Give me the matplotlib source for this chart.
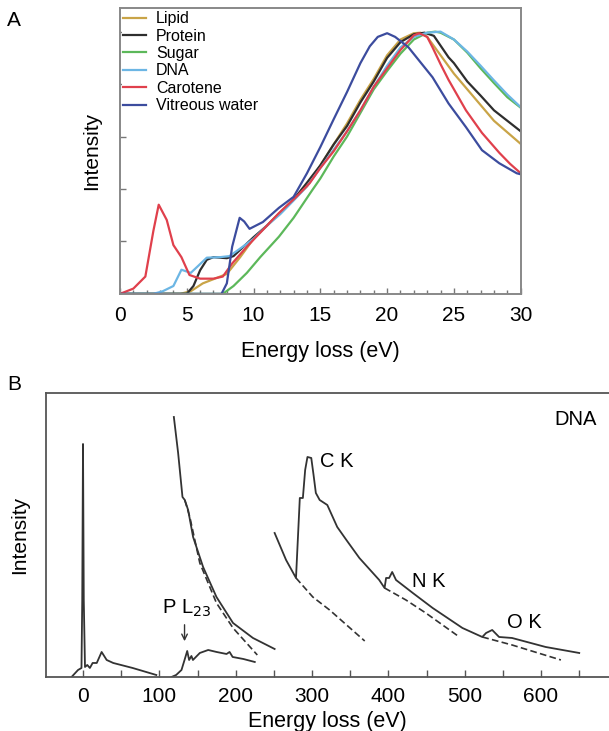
import numpy as np
import matplotlib
matplotlib.use("Agg")
import matplotlib.pyplot as plt
from matplotlib.ticker import MultipleLocator

plt.rcParams['font.family'] = ['Liberation Sans', 'DejaVu Sans']

# ---------------- Panel A: low-loss spectra ----------------
lipid_x = [0, 4.5, 5.3, 6.2, 7.0, 8.0, 9.0, 10, 11, 12, 13, 14, 15, 16, 17, 18, 19, 20, 21, 22, 22.5, 23, 24, 25, 26, 27, 28, 29, 30]
lipid_y = [0, 0, 0.05, 0.2, 0.28, 0.38, 0.7, 1.05, 1.3, 1.55, 1.8, 2.05, 2.45, 2.85, 3.25, 3.7, 4.1, 4.55, 4.85, 4.97, 4.98, 4.9, 4.55, 4.2, 3.9, 3.6, 3.3, 3.08, 2.86]

protein_x = [0, 5.0, 5.5, 6.0, 6.5, 7, 8, 8.5, 9, 10, 11, 12, 13, 14, 15, 16, 17, 18, 19, 20, 21, 22, 22.8, 23.5, 24.6, 25, 26, 27, 28, 29, 30]
protein_y = [0, 0, 0.15, 0.45, 0.65, 0.7, 0.68, 0.72, 0.84, 1.08, 1.3, 1.55, 1.8, 2.12, 2.45, 2.85, 3.2, 3.65, 4.05, 4.5, 4.8, 4.95, 4.98, 4.92, 4.51, 4.4, 4.05, 3.78, 3.5, 3.3, 3.1]

sugar_x = [0, 7.7, 8.5, 9.5, 10.5, 11.9, 13, 14.4, 15, 16, 17, 18, 19, 20, 21, 22, 23, 23.6, 24, 25, 26, 27, 28, 29, 30]
sugar_y = [0, 0, 0.15, 0.4, 0.7, 1.09, 1.45, 1.98, 2.2, 2.62, 3.0, 3.45, 3.9, 4.25, 4.58, 4.85, 4.98, 5.0, 4.98, 4.85, 4.6, 4.3, 4.02, 3.75, 3.55]

dna_x = [0, 2.5, 3.2, 4.0, 4.6, 5.3, 5.8, 6.5, 7.5, 8.2, 9.2, 10, 11, 12, 13, 14, 15, 16, 17, 18, 19, 20, 21, 22, 23, 24, 25, 26, 27, 28, 29, 30]
dna_y = [0, 0, 0.05, 0.15, 0.46, 0.4, 0.52, 0.69, 0.7, 0.72, 0.9, 1.05, 1.3, 1.52, 1.78, 2.05, 2.4, 2.75, 3.1, 3.5, 3.95, 4.35, 4.7, 4.9, 4.98, 5.0, 4.85, 4.62, 4.35, 4.07, 3.8, 3.56]

carotene_x = [0, 1, 1.9, 2.5, 2.9, 3.5, 4.0, 4.6, 5.2, 6.0, 7.0, 7.7, 8.4, 9.5, 10.7, 11.9, 13.2, 14.2, 15, 16, 17, 18, 19, 20, 21, 22, 22.4, 23, 23.4, 24, 24.6, 25.9, 27.1, 28.4, 29.2, 30]
carotene_y = [0, 0.1, 0.33, 1.2, 1.7, 1.41, 0.93, 0.7, 0.36, 0.29, 0.29, 0.33, 0.58, 0.9, 1.22, 1.54, 1.85, 2.11, 2.4, 2.72, 3.1, 3.5, 3.95, 4.3, 4.65, 4.93, 4.97, 4.9, 4.7, 4.38, 4.08, 3.5, 3.07, 2.69, 2.48, 2.3]

water_x = [0, 7.6, 8.0, 8.4, 8.96, 9.3, 9.7, 10.7, 11.9, 13, 14, 15, 16, 17, 18, 18.7, 19.3, 20, 20.6, 21.6, 23.4, 24.6, 25.9, 27.1, 28.4, 29.7, 30]
water_y = [0, 0, 0.2, 0.9, 1.45, 1.38, 1.24, 1.37, 1.64, 1.85, 2.3, 2.8, 3.33, 3.85, 4.4, 4.72, 4.9, 4.97, 4.9, 4.7, 4.13, 3.63, 3.18, 2.74, 2.49, 2.3, 2.28]

names = ['Lipid', 'Protein', 'Sugar', 'DNA', 'Carotene', 'Vitreous water']
colors = ['#c9a447', '#2e2e2e', '#5cb85a', '#6cb6e4', '#e0404c', '#3c4c9e']
series = [(lipid_x, lipid_y), (protein_x, protein_y), (sugar_x, sugar_y),
          (dna_x, dna_y), (carotene_x, carotene_y), (water_x, water_y)]

# ---------------- Panel B: DNA core-loss spectrum ----------------
low_x = [-15, -6.5, -2, -1, 0, 1, 2.6, 5.6, 9, 12.6, 18, 24.4, 31, 39.6, 65, 96]
low_y = [0, 7, 9, 77, 233, 77, 10, 12, 9, 14, 14, 25, 17, 14, 9, 2]

pl_x = [116, 122, 129, 133, 136.5, 139, 142, 144, 153, 164, 175, 188, 192, 196, 210, 225]
pl_y = [0, 2, 7, 17, 26, 17, 21, 17, 24, 27, 25, 23, 25, 20, 18, 15]

pl_up_x = [119, 124.6, 130.3, 133.3, 137.7, 144.2, 157.3, 174.8, 196.5, 222.6, 251]
pl_up_y = [260, 224, 180, 177, 167, 140, 110, 80, 54, 39, 28]
pl_bg_x = [133.3, 139.9, 153, 174.8, 196.5, 228.3]
pl_bg_y = [177, 160, 114, 74, 49, 22]

ck_x = [251, 266, 279, 284, 288, 291, 294, 299, 302, 305, 310, 320, 333, 345, 362, 388, 395, 397, 401, 405, 410, 432, 458, 497, 523, 528, 536, 545, 562, 606, 650]
ck_y = [144, 117, 99, 179, 179, 207, 220, 219, 202, 184, 177, 172, 150, 137, 119, 97, 89, 99, 99, 105, 97, 84, 69, 49, 40, 44, 47, 40, 39, 30, 24]
c_bg_x = [279, 301, 323, 369]
c_bg_y = [99, 80, 67, 36]
n_bg_x = [395, 423, 449, 493]
n_bg_y = [89, 77, 64, 40]
o_bg_x = [523, 562, 626]
o_bg_y = [40, 32, 17]

fig = plt.figure(figsize=(6.09, 7.31), dpi=100)

# Panel A
axA = fig.add_axes([0.197, 0.598, 0.658, 0.391])
for (x, y), c, n in zip(series, colors, names):
    axA.plot(x, y, color=c, lw=1.6, label=n)
axA.set_xlim(0, 30)
axA.set_ylim(0, 5.45)
axA.xaxis.set_major_locator(MultipleLocator(5))
axA.xaxis.set_minor_locator(MultipleLocator(1))
axA.set_yticks([1, 2, 3, 4, 5])
axA.set_yticklabels([])
axA.tick_params(axis='both', which='both', direction='in', color='#777777', width=1)
axA.tick_params(axis='x', which='major', length=4, labelsize=15, pad=9)
axA.tick_params(axis='x', which='minor', length=3)
axA.tick_params(axis='y', length=4)
for s in axA.spines.values():
    s.set_color('#888888')
    s.set_linewidth(1.4)
axA.set_xlabel('Energy loss (eV)', fontsize=15.5, labelpad=11)
axA.set_ylabel('Intensity', fontsize=15, labelpad=10)
leg = axA.legend(loc='upper left', bbox_to_anchor=(0.0, 1.0), frameon=True,
                 fontsize=11.5, handlelength=1.45, handletextpad=0.6,
                 labelspacing=0.15, borderaxespad=0.1, borderpad=0.1,
                 edgecolor='none', facecolor='white', framealpha=1)

# Panel B
axB = fig.add_axes([0.0755, 0.0739, 0.9245, 0.3885])
k = '#333333'
axB.plot(low_x, low_y, color=k, lw=1.3)
axB.plot(pl_x, pl_y, color=k, lw=1.3)
axB.plot(pl_up_x, pl_up_y, color=k, lw=1.3)
axB.plot(pl_bg_x, pl_bg_y, color=k, lw=1.2, ls=(0, (4, 2)))
axB.plot(ck_x, ck_y, color=k, lw=1.3)
axB.plot(c_bg_x, c_bg_y, color=k, lw=1.2, ls=(0, (4, 2)))
axB.plot(n_bg_x, n_bg_y, color=k, lw=1.2, ls=(0, (4, 2)))
axB.plot(o_bg_x, o_bg_y, color=k, lw=1.2, ls=(0, (4, 2)))
axB.set_xlim(-48.5, 689)
axB.set_ylim(0, 284)
axB.set_xticks([0, 100, 200, 300, 400, 500, 600])
axB.xaxis.set_minor_locator(MultipleLocator(50))
axB.set_yticks([])
axB.tick_params(axis='x', which='both', direction='in', length=5, color='#555555', width=1)
axB.tick_params(axis='x', which='major', labelsize=15, pad=7)
axB.spines['right'].set_visible(False)
for s in ['left', 'top', 'bottom']:
    axB.spines[s].set_color('#555555')
    axB.spines[s].set_linewidth(1.3)
axB.set_xlabel('Energy loss (eV)', fontsize=15.5, labelpad=4)
axB.set_ylabel('Intensity', fontsize=15, labelpad=12)

axB.text(103, 69, 'P L$_{23}$', fontsize=14.5, va='center', ha='left')
axB.annotate('', xy=(133, 33), xytext=(133, 55),
             arrowprops=dict(arrowstyle='->', color=k, lw=1))
axB.text(310, 215, 'C K', fontsize=14.5, va='center', ha='left')
axB.text(431, 95, 'N K', fontsize=14.5, va='center', ha='left')
axB.text(556, 54, 'O K', fontsize=14.5, va='center', ha='left')
axB.text(617, 257, 'DNA', fontsize=14.5, va='center', ha='left')

fig.text(0.012, 0.972, 'A', fontsize=15, va='center', ha='left')
fig.text(0.012, 0.474, 'B', fontsize=15, va='center', ha='left')

fig.savefig('out.png', dpi=100)
